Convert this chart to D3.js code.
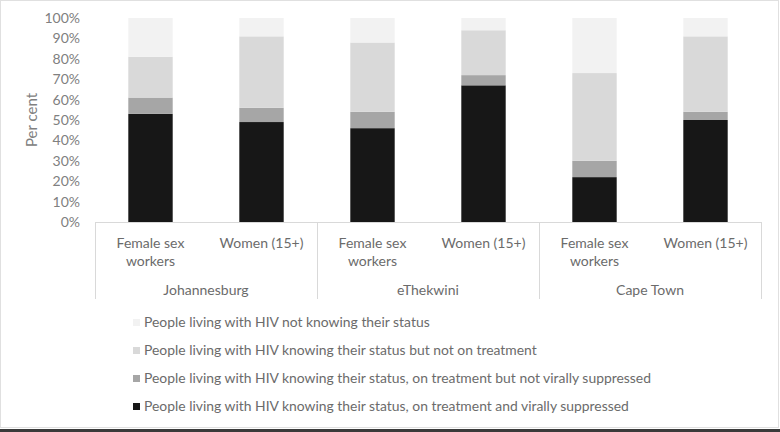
<!DOCTYPE html>
<head>
    <meta charset="utf-8">
    <script src="https://d3js.org/d3.v7.min.js"></script>
    <style>
        body { margin: 0; background: #fff; }
        text { font-family: Lato, "Open Sans", sans-serif; }
    </style>
</head>
<body>
<script>
    ////////////// Data //////////////
    const cities = ["Johannesburg", "eThekwini", "Cape Town"]
    const groups = ["Female sex workers", "Women (15+)"]
    const yTicks = [0, 10, 20, 30, 40, 50, 60, 70, 80, 90, 100]

    //one value per bar, bars in city/group order
    const suppressed   = [53, 49, 46, 67, 22, 50]
    const notSupp      = [8, 7, 8, 5, 8, 4]
    const notTreated   = [20, 35, 34, 22, 43, 37]
    const notKnowing   = [19, 9, 12, 6, 27, 9]

    const seriesNames = [
        "People living with HIV knowing their status, on treatment and virally suppressed",
        "People living with HIV knowing their status, on treatment but not virally suppressed",
        "People living with HIV knowing their status but not on treatment",
        "People living with HIV not knowing their status"
    ]
    const seriesColors = ["#171717", "#a6a6a6", "#d9d9d9", "#f2f2f2"]

    ////////////// SVG //////////////
    let width = 780,
        height = 432

    let svg = d3.select("body").append("svg")
        .attr("width", width)
        .attr("height", height)

    //chart border
    svg.append("rect")
        .attr("x", 0.5).attr("y", 0.5)
        .attr("width", width - 2).attr("height", 427)
        .style("fill", "none").style("stroke", "#e0e0e0")
    svg.append("rect")
        .attr("x", 0).attr("y", 429)
        .attr("width", width).attr("height", 3)
        .style("fill", "#3a3a3a")

    ////////////// Scales //////////////
    const plotLeft = 95, plotRight = 761, plotTop = 18, plotBottom = 222

    const bars = d3.range(suppressed.length)
    const x_scale = d3.scaleBand()
        .domain(bars)
        .range([plotLeft, plotRight])
        .paddingInner(0.6)
        .paddingOuter(0.3)

    const city_scale = d3.scaleBand()
        .domain(cities)
        .range([plotLeft, plotRight])

    const y_scale = d3.scaleLinear()
        .domain([0, 100])
        .range([plotBottom, plotTop])

    ////////////// Stacked bars //////////////
    const rows = bars.map(i => ({
        i: i,
        s0: suppressed[i], s1: notSupp[i], s2: notTreated[i], s3: notKnowing[i]
    }))
    const stack = d3.stack().keys(["s0", "s1", "s2", "s3"])(rows)

    svg.append("g").selectAll("g")
        .data(stack)
        .join("g")
        .style("fill", (d, k) => seriesColors[k])
        .selectAll("rect")
        .data(d => d)
        .join("rect")
        .attr("x", d => x_scale(d.data.i))
        .attr("width", x_scale.bandwidth())
        .attr("y", d => y_scale(d[1]))
        .attr("height", d => y_scale(d[0]) - y_scale(d[1]))

    ////////////// Y axis //////////////
    const yAxis = svg.append("g")
        .attr("transform", `translate(${80},0)`)
        .call(d3.axisLeft(y_scale).tickValues(yTicks).tickSize(0).tickPadding(0).tickFormat(d => d + "%"))
    yAxis.select(".domain").remove()
    yAxis.selectAll("text")
        .style("font-size", "14px")
        .style("fill", "#808080")

    svg.append("text")
        .attr("transform", `translate(37,${(plotTop + plotBottom) / 2}) rotate(-90)`)
        .attr("text-anchor", "middle")
        .style("font-size", "15px")
        .style("fill", "#808080")
        .text("Per cent")

    ////////////// X axis (two levels) //////////////
    const axisColor = "#d9d9d9"
    svg.append("line")
        .attr("x1", plotLeft).attr("x2", plotRight)
        .attr("y1", plotBottom + 0.5).attr("y2", plotBottom + 0.5)
        .style("stroke", axisColor)

    const seps = cities.map(c => city_scale(c)).concat([plotRight])
    svg.append("g").selectAll("line")
        .data(seps)
        .join("line")
        .attr("x1", d => Math.round(d) + 0.5).attr("x2", d => Math.round(d) + 0.5)
        .attr("y1", plotBottom).attr("y2", 299)
        .style("stroke", axisColor)

    const labelColor = "#6b6b6b"
    bars.forEach(i => {
        const name = groups[i % 2]
        const cx = x_scale(i) + x_scale.bandwidth() / 2
        const t = svg.append("text")
            .attr("x", cx)
            .attr("text-anchor", "middle")
            .style("font-size", "14px")
            .style("fill", labelColor)
        if (name === "Female sex workers") {
            t.append("tspan").attr("x", cx).attr("y", 248).text("Female sex")
            t.append("tspan").attr("x", cx).attr("y", 266).text("workers")
        } else {
            t.attr("y", 248).text(name)
        }
    })

    svg.append("g").selectAll("text")
        .data(cities)
        .join("text")
        .attr("x", d => city_scale(d) + city_scale.bandwidth() / 2)
        .attr("y", 295)
        .attr("text-anchor", "middle")
        .style("font-size", "14px")
        .style("fill", labelColor)
        .text(d => d)

    ////////////// Legend //////////////
    const legendOrder = [3, 2, 1, 0]
    const legend = svg.append("g").selectAll("g")
        .data(legendOrder)
        .join("g")
        .attr("transform", (d, k) => `translate(133,${322 + k * 28})`)

    legend.append("rect")
        .attr("x", 0).attr("y", -3)
        .attr("width", 7).attr("height", 7)
        .style("fill", d => seriesColors[d])

    legend.append("text")
        .attr("x", 11)
        .attr("y", 5)
        .style("font-size", "13.9px")
        .style("fill", labelColor)
        .text(d => seriesNames[d])
</script>
</body>
